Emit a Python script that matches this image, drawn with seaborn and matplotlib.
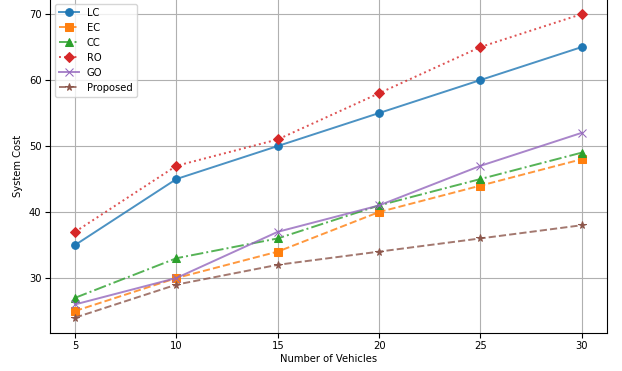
import matplotlib
matplotlib.use("Agg")
import matplotlib.pyplot as plt
import matplotlib.colors as mcolors
import seaborn as sns
import pandas as pd

vehicles = [5, 10, 15, 20, 25, 30]
lc = [35, 45, 50, 55, 60, 65]
ec = [25, 30, 34, 40, 44, 48]
cc = [27, 33, 36, 41, 45, 49]
ro = [37, 47, 51, 58, 65, 70]
go = [26, 30, 37, 41, 47, 52]
proposed = [24, 29, 32, 34, 36, 38]

series = [
    ("LC", lc, "-", "o", "#1f77b4"),
    ("EC", ec, "--", "s", "#ff7f0e"),
    ("CC", cc, "-.", "^", "#2ca02c"),
    ("RO", ro, ":", "D", "#d62728"),
    ("GO", go, "-", "x", "#9467bd"),
    ("Proposed", proposed, "--", "*", "#8c564b"),
]

plt.rcParams["font.family"] = ["DejaVu Sans"]
plt.rcParams["font.size"] = 7.2

fig = plt.figure(figsize=(6.22, 3.71), dpi=100)
ax = fig.add_axes([0.080, 0.103, 0.896, 0.900])

for name, vals, ls, mk, col in series:
    df = pd.DataFrame({"x": vehicles, "y": vals})
    sns.lineplot(data=df, x="x", y="y", ax=ax, label=name, color=col,
                 linestyle=ls, marker=mk, markersize=5.5 if mk != "x" else 6,
                 markeredgecolor=col, markerfacecolor=col, linewidth=1.4,
                 legend=False)
    line = ax.lines[-1]
    line.set_color(mcolors.to_rgba(col, 0.8))
    line.set_markerfacecolor(mcolors.to_rgba(col, 1.0))
    line.set_markeredgecolor(mcolors.to_rgba(col, 1.0))

ax.set_xticks(vehicles)
ax.set_xlabel("Number of Vehicles", fontsize=7.2, labelpad=2)
ax.set_ylabel("System Cost", fontsize=7.2)
ax.grid(True, color="#b0b0b0", linewidth=0.8)
ax.tick_params(labelsize=7.2, pad=2.5)
ax.legend(loc="upper left", fontsize=7.2)
fig.savefig("out.png", dpi=100)
